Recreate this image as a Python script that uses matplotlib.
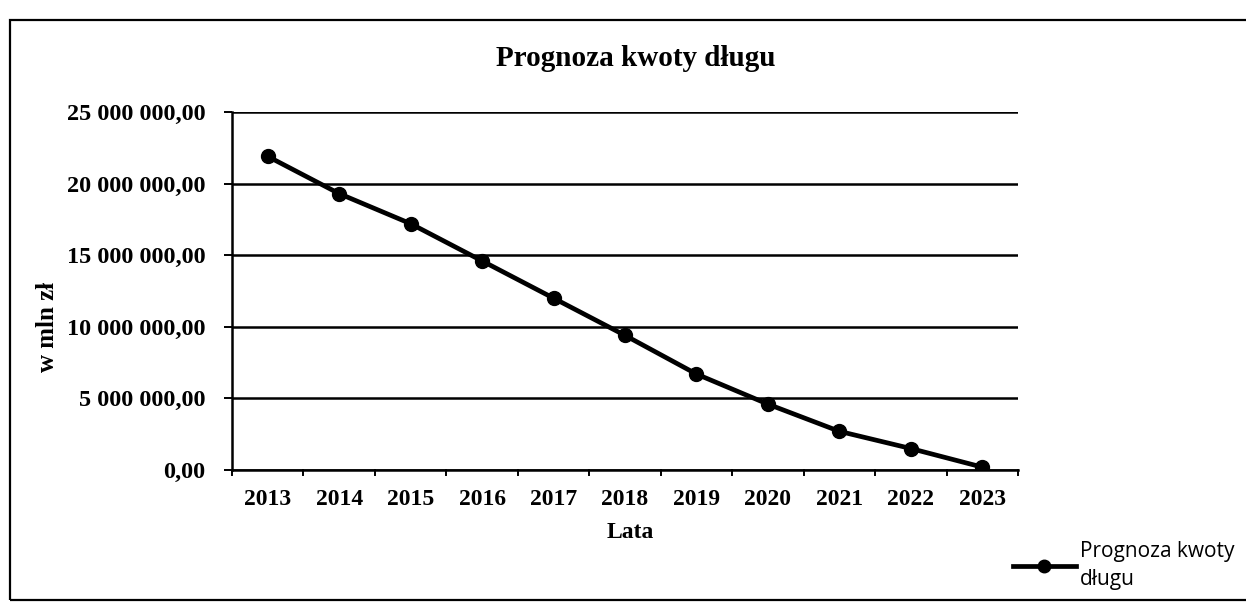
import matplotlib
matplotlib.use("Agg")
import matplotlib.pyplot as plt
from matplotlib.lines import Line2D
from matplotlib.patches import Rectangle

# Forecast of the outstanding debt, 2013-2023
years = ["2013", "2014", "2015", "2016", "2017", "2018",
         "2019", "2020", "2021", "2022", "2023"]
debt = [21_900_000, 19_300_000, 17_200_000, 14_600_000, 12_000_000, 9_400_000,
        6_700_000, 4_600_000, 2_700_000, 1_500_000, 200_000]
y_ticks = [0, 5_000_000, 10_000_000, 15_000_000, 20_000_000, 25_000_000]
series_name = "Prognoza kwoty długu"


def pl_format(v):
    whole = f"{int(v):,}".replace(",", " ")
    return f"{whole},00"


serif = ["Liberation Serif", "DejaVu Serif"]
sans = ["Open Sans", "DejaVu Sans"]

W, H = 1246, 604
fig = plt.figure(figsize=(W / 100, H / 100), dpi=100)
fig.patch.set_facecolor("white")

# outer chart frame
fig.add_artist(Rectangle((10 / W, 1 - 600 / H), 1.2, (600 - 20) / H,
                         transform=fig.transFigure, fill=False,
                         edgecolor="black", linewidth=1.6, clip_on=False))

ax = fig.add_axes([232 / W, 1 - 470 / H, (1018 - 232) / W, (470 - 112) / H])
x = list(range(len(years)))
ax.plot(x, debt, color="black", linewidth=3.4, marker="o", markersize=10,
        markerfacecolor="black", markeredgecolor="black", zorder=3)

ax.set_xlim(-0.5, len(years) - 0.5)
ax.set_ylim(0, 25_000_000)
ax.set_yticks(y_ticks)
ax.set_yticklabels([pl_format(v) for v in y_ticks], fontfamily=serif,
                   fontweight="bold", fontsize=17.5)
ax.set_xticks(x)
ax.set_xticklabels(years, fontfamily=serif, fontweight="bold", fontsize=17)
ax.tick_params(axis="x", length=0, pad=14)
ax.tick_params(axis="y", length=6, width=1.4, direction="out", pad=13)

# category boundary ticks on the x axis
for b in range(len(years) + 1):
    ax.plot([b - 0.5, b - 0.5], [0, -0.014], transform=ax.get_xaxis_transform(),
            color="black", linewidth=1.4, clip_on=False)

ax.grid(axis="y", color="black", linewidth=1.8)
ax.set_axisbelow(True)
for side in ("top", "right"):
    ax.spines[side].set_visible(False)
for side in ("left", "bottom"):
    ax.spines[side].set_linewidth(1.8)

fig.text(636 / W, 1 - 58 / H, series_name, ha="center", va="center",
         fontfamily=serif, fontweight="bold", fontsize=21)
fig.text(630 / W, 1 - 532 / H, "Lata", ha="center", va="center",
         fontfamily=serif, fontweight="bold", fontsize=17)
fig.text(48 / W, 1 - 327 / H, "w mln zł", ha="center", va="center",
         rotation=90, fontfamily=serif, fontweight="bold", fontsize=18)

handle = Line2D([], [], color="black", linewidth=3.4, marker="o",
                markersize=9, markerfacecolor="black")
leg = fig.legend([handle], ["Prognoza kwoty\ndługu"], loc="upper left",
                 bbox_to_anchor=(1013 / W, 1 - 541 / H), frameon=False,
                 prop={"family": sans, "size": 15}, handlelength=3.0,
                 handletextpad=0.2, borderaxespad=0, borderpad=0)
for t in leg.get_texts():
    t.set_linespacing(1.45)

fig.savefig("out.png", dpi=100)
